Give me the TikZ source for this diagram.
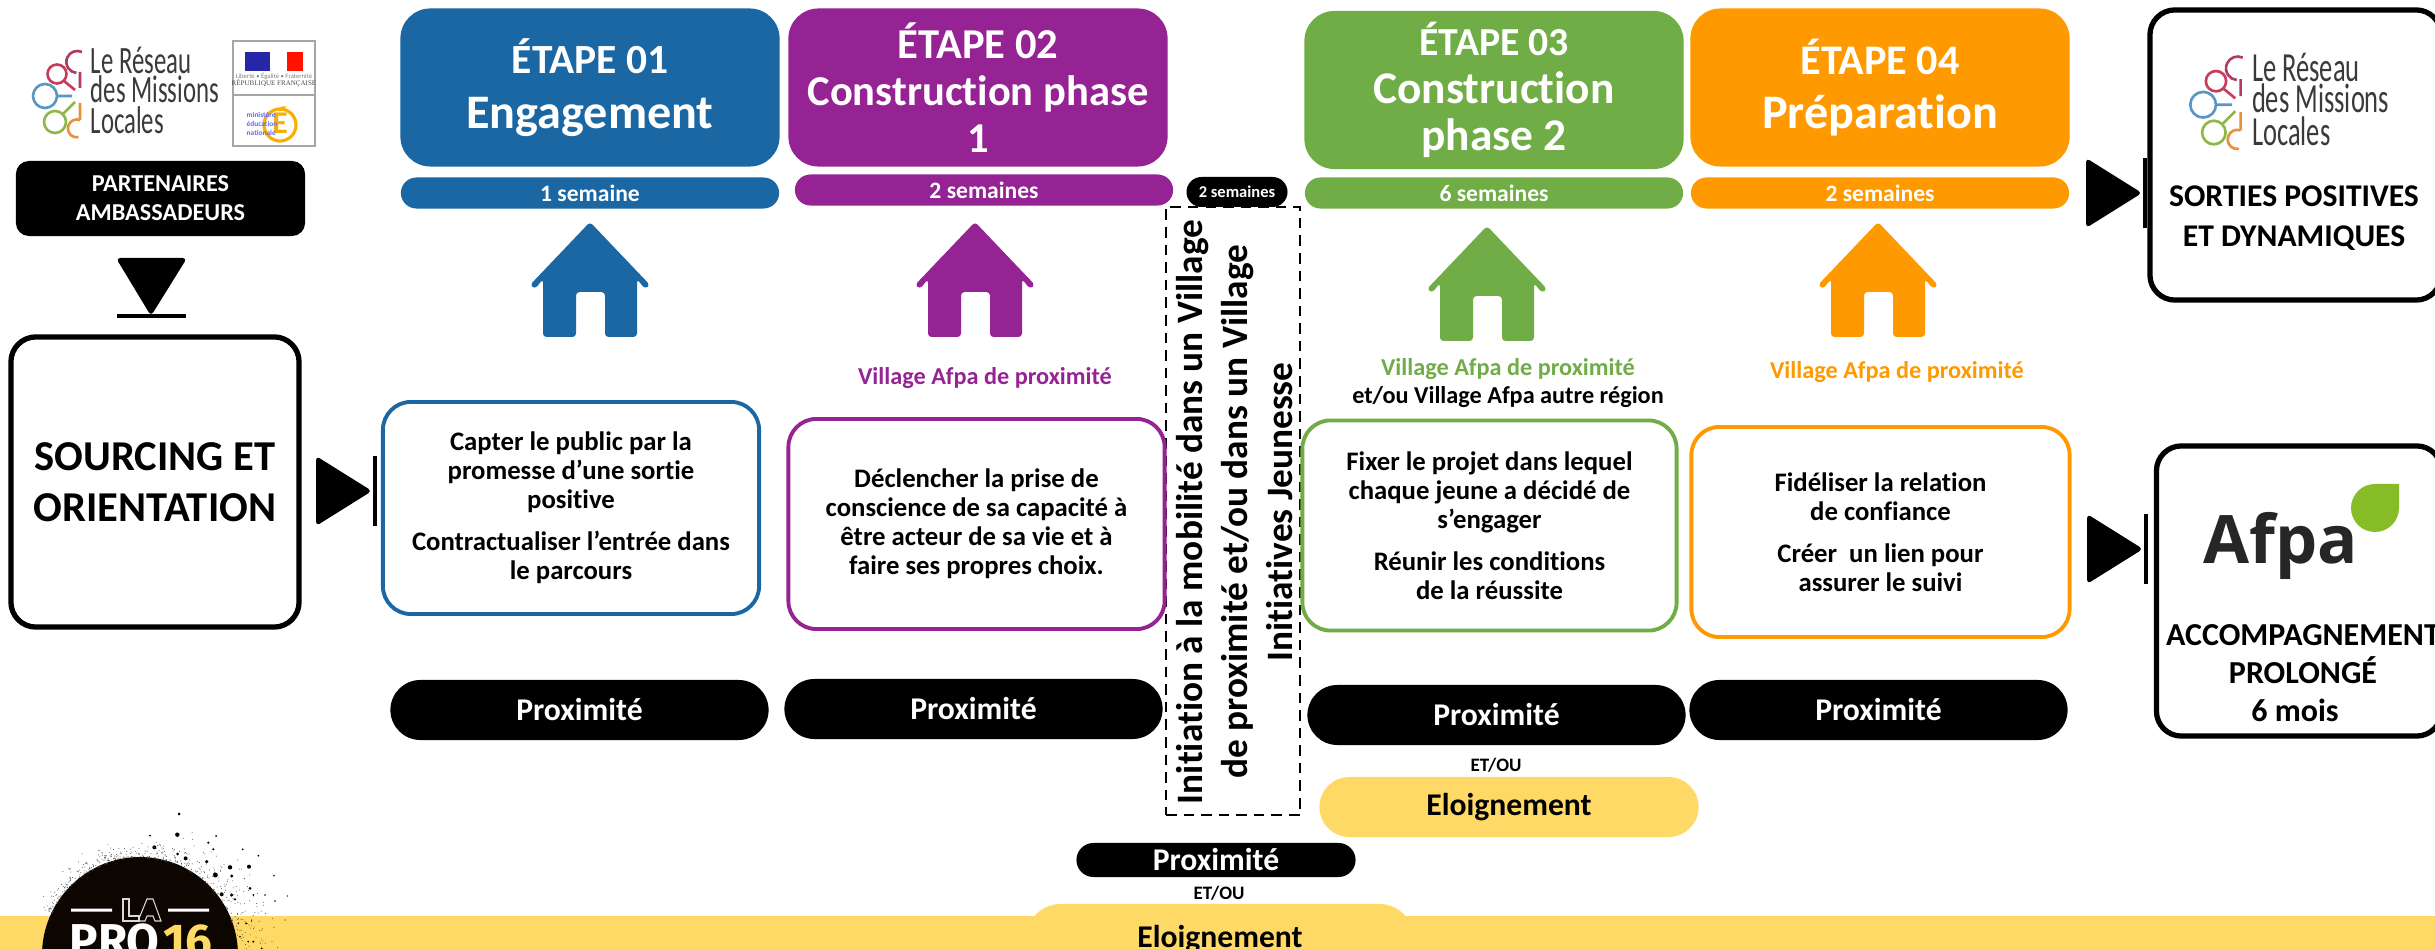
\documentclass[tikz,border=0pt]{standalone}
\usepackage{fontspec}
\usepackage{xcolor}
\usetikzlibrary{shapes.misc}
\setmainfont{Carlito}[Ligatures=NoCommon]
\newfontfamily\afpafont{Open Sans}
\newfontfamily\prologo{Fira Sans}
\newfontfamily\serifrf{Liberation Serif}
\definecolor{bleuE}{HTML}{1A67A3}
\definecolor{violetE}{HTML}{962393}
\definecolor{vertE}{HTML}{70AD47}
\definecolor{orangeE}{HTML}{FF9900}
\definecolor{jauneE}{HTML}{FFD966}
\definecolor{texteLogo}{HTML}{3A3A3A}
\definecolor{feuille}{HTML}{86BC25}
\definecolor{ocreE}{HTML}{F7B000}
\newcommand{\taille}[2]{\fontsize{#1}{#2}\selectfont\bfseries}
\tikzset{
	etapebox/.style={fill=#1,text=white,rounded corners=0.3cm,minimum width=3.79cm,minimum height=1.58cm,inner sep=0pt,align=center},
	dureepill/.style={rounded rectangle,fill=#1,text=white,minimum width=3.78cm,minimum height=0.31cm,inner sep=0pt,font=\taille{6.7}{7}},
	cadrebox/.style={draw=#1,line width=1.1pt,fill=white,rounded corners=0.28cm,minimum width=3.74cm,minimum height=2.1cm,inner sep=0pt,align=center,font=\taille{7.6}{8.25}},
	bigbox/.style={draw=black,line width=1.5pt,fill=white,rounded corners=0.25cm,inner sep=0pt},
	lieutext/.style={inner sep=0pt,font=\taille{6.9}{7.4}},
	proxipill/.style={rounded rectangle,fill=black,text=white,minimum width=3.78cm,minimum height=0.6cm,inner sep=0pt,font=\taille{9}{10}},
	eloipill/.style={rounded rectangle,fill=jauneE,text=black,inner sep=0pt,font=\taille{9}{10}},
	pics/maison/.style={code={
		\fill[#1,rounded corners=1pt] (0,0) -- (-60,63) -- (-55,67) -- (-47,57) -- (-47,115) -- (-14,115) -- (-14,70) -- (15,70) -- (15,115) -- (47,115) -- (47,57) -- (55,67) -- (60,63) -- cycle;
	}},
	pics/arret/.style={code={
		\fill[black,rounded corners=1.2pt] (0,0) -- (-56,-35) -- (-56,35) -- cycle;
		\fill[black] (1,-35) rectangle (5,35);
	}},
	pics/logoml/.style={code={
		\draw[line width=0.75pt,color={rgb,255:red,178;green,58;blue,101}] (82,52) arc (-65:-265:11) (80,72) -- (80,88);
		\draw[line width=0.75pt,color={rgb,255:red,200;green,60;blue,90}] (57,74) circle (9.5) (64,81) -- (75,90);
		\draw[line width=0.75pt,color={rgb,255:red,90;green,150;blue,195}] (45,96) circle (12) (57,96) -- (72,96);
		\draw[line width=0.75pt,color={rgb,255:red,140;green,185;blue,70}] (55,122) circle (11) (63,114) -- (75,102);
		\draw[line width=0.75pt,color={rgb,255:red,230;green,145;blue,60}] (80,120) arc (-70:-280:9) (80,103) -- (80,120);
		\foreach \ligne/\yl in {Le Réseau/74,des Missions/103,Locales/134}{
			\node[anchor=base west,inner sep=0pt,text=texteLogo] at (90,\yl) {\scalebox{.64}[1]{\fontsize{11}{12}\selectfont \ligne}};
		}
	}}
}
\begin{document}
\begin{tikzpicture}[x=0.01cm,y=-0.01cm]
	\clip (0,0) rectangle (2435,949);
	\fill[white] (0,0) rectangle (2435,949);

	% bandeau du bas
	\fill[jauneE] (0,916) rectangle (2435,949);
	\node[eloipill,minimum width=3.88cm,minimum height=0.7cm] (eloibas) at (1220,939) {Eloignement};
	\node[proxipill,minimum width=2.79cm,minimum height=0.34cm] (proxibas) at (1216,860) {Proximité};
	\node[inner sep=0pt,font=\taille{5.4}{6}] (etoubas) at (1219,893) {ET/OU};

	% etapes
	\node[etapebox=bleuE,minimum height=1.58cm,font=\taille{13.7}{15.5}] (etapea) at (590,87.5) {\fontsize{11.8}{15.5}\selectfont ÉTAPE 01\\Engagement};
	\node[etapebox=violetE,font=\taille{12.1}{13.3}] (etapeb) at (978,87.5) {ÉTAPE 02\\Construction phase\\1};
	\node[etapebox=vertE,font=\taille{12.9}{13.6}] (etapec) at (1494,90) {\fontsize{11.3}{13.6}\selectfont ÉTAPE 03\\Construction\\phase 2};
	\node[etapebox=orangeE,font=\taille{13.7}{15.5}] (etaped) at (1880,87.5) {\fontsize{12}{15.5}\selectfont ÉTAPE 04\\Préparation};

	\node[dureepill=bleuE] (dureea) at (590,193) {1 semaine};
	\node[dureepill=violetE] (dureeb) at (984,190) {2 semaines};
	\node[dureepill=vertE] (dureec) at (1494,193) {6 semaines};
	\node[dureepill=orangeE] (dureed) at (1880,193) {2 semaines};

	\pic at (590,222) {maison=bleuE};
	\pic at (975,222) {maison=violetE};
	\pic at (1487,226) {maison=vertE};
	\pic at (1878,222) {maison=orangeE};

	\node[lieutext,text=violetE] (lieub) at (985,378) {Village Afpa de proximité};
	\node[lieutext,text=vertE] (lieuc) at (1508,369) {Village Afpa de proximité};
	\node[lieutext] (lieuc2) at (1508,397) {et/ou Village Afpa autre région};
	\node[lieutext,text=orangeE] (lieud) at (1897,372) {Village Afpa de proximité};

	% semaines de mobilite
	\node[rounded rectangle,fill=black,text=white,minimum width=1.01cm,minimum height=0.3cm,inner sep=0pt,font=\taille{4.7}{5}] (dureemob) at (1237,192) {2 semaines};
	\node[draw=black,densely dashed,line width=0.7pt,fill=white,minimum width=1.34cm,minimum height=6.08cm,inner sep=0pt] (mobilite) at (1233,511) {};
	\node[rotate=90,inner sep=0pt,align=center,font=\taille{10.6}{12.8}] (mobtext) at (1235,512) {Initiation à la mobilité dans un Village\\de proximité et/ou dans un Village\\Initiatives Jeunesse};

	\node[cadrebox=violetE,minimum width=3.76cm] (cadreb) at (976.5,524) {Déclencher la prise de\\conscience de sa capacité à\\être acteur de sa vie et à\\faire ses propres choix.};
	\node[cadrebox=vertE] (cadrec) at (1489.5,525.5) {Fixer le projet dans lequel\\chaque jeune a décidé de\\s’engager\\[3.7pt]Réunir les conditions\\de la réussite};
	\node[cadrebox=bleuE,minimum width=3.76cm,minimum height=2.12cm] (cadrea) at (571,508) {Capter le public par la\\promesse d’une sortie\\positive\\[3.7pt]Contractualiser l’entrée dans\\le parcours};
	\node[cadrebox=orangeE,minimum width=3.78cm] (cadred) at (1880.5,532) {Fidéliser la relation\\de confiance\\[3.7pt]Créer~ un lien pour\\assurer le suivi};

	\node[proxipill] (proxia) at (579.5,710) {Proximité};
	\node[proxipill] (proxib) at (973.5,709) {Proximité};
	\node[proxipill] (proxic) at (1496.5,715) {Proximité};
	\node[proxipill] (proxid) at (1878.5,710) {Proximité};
	\node[inner sep=0pt,font=\taille{5.4}{6}] (etouc) at (1496,765) {ET/OU};
	\node[eloipill,minimum width=3.79cm,minimum height=0.6cm] (eloic) at (1509,807) {Eloignement};

	% colonne de gauche
	\pic at (0,0) {logoml};
	\draw[gray!70,line width=0.5pt] (233,41) rectangle (315,146) (233,95) -- (315,95);
	\fill[blue!60!black!85] (245,52) rectangle (270,71);
	\fill[red!85!orange] (287,52) rectangle (303,71);
	\node[inner sep=0pt,text=gray,font=\fontsize{1.9}{2.5}\selectfont] (devise) at (274,76) {Liberté • Égalité • Fraternité};
	\node[inner sep=0pt,text=gray!60!black,font=\fontsize{2}{2.5}\selectfont\serifrf] (republique) at (274,83) {RÉPUBLIQUE FRANÇAISE};
	\draw[ocreE,line width=0.9pt] (280,125) circle (16);
	\node[inner sep=0pt,text=ocreE,font=\taille{9}{10}] (elogo) at (280,120) {É};
	\node[inner sep=0pt,text=blue!60,align=left,anchor=west,font=\fontsize{2.1}{2.5}\selectfont\bfseries] (minedu) at (246,124) {ministère\\éducation\\nationale};

	\node[fill=black,text=white,rounded corners=0.13cm,minimum width=2.89cm,minimum height=0.75cm,inner sep=0pt,align=center,font=\taille{6.9}{8.25}] (partenaires) at (160.5,198.5) {PARTENAIRES\\AMBASSADEURS};
	\fill[black,rounded corners=1.2pt] (116,258) -- (187,258) -- (151,316) -- cycle;
	\fill[black] (117,314) rectangle (186,318);

	\node[bigbox,minimum width=2.88cm,minimum height=2.9cm,align=center,font=\taille{12.1}{14.5}] (sourcing) at (155,482) {SOURCING ET\\ORIENTATION};
	\pic at (372,491) {arret};

	% colonne de droite
	\pic at (2142,193) {arret};
	\node[bigbox,minimum width=2.91cm,minimum height=2.9cm] (sorties) at (2295.5,155) {};
	\pic[scale=1.07,transform shape] at (2155,2) {logoml};
	\node[inner sep=0pt,align=center,font=\taille{9}{11.2}] (sortiestext) at (2294,218) {SORTIES POSITIVES\\ET DYNAMIQUES};

	\pic at (2143,549) {arret};
	\node[bigbox,minimum width=2.85cm,minimum height=2.9cm] (prolonge) at (2299,591) {};
	\node[anchor=base,inner sep=0pt,text=black!85,font=\fontsize{19}{22}\selectfont\afpafont\bfseries] (afpa) at (2281,564) {Afpa};
	\fill[feuille] (2399,484) -- (2399,508) arc (0:270:24) -- cycle;
	\node[inner sep=0pt,align=center,font=\taille{9.1}{10.7}] (prolongetext) at (2303,673) {ACCOMPAGNEMENT\\PROLONGÉ\\\hspace*{-0.16cm}6 mois};

	% logo la pro 16
	\fill[black!95!orange] (140,955) circle (98);
	\fill[white] (71,908.5) rectangle (112,911.5) (168,908.5) rectangle (209,911.5);
	\draw[white!85!black,line width=0.3pt] (123,899) -- (129,899) -- (129,916) -- (139,916) -- (139,921) -- (123,921) -- cycle;
	\draw[white!85!black,line width=0.3pt] (138,921) -- (147,899) -- (153,899) -- (161,921) -- (155,921) -- (153,916) -- (147,916) -- (145,921) -- cycle;
	\node[anchor=base west,inner sep=0pt,text=white,font=\fontsize{13.5}{14}\selectfont\prologo\bfseries] (prolabel) at (69,958) {PRO};
	\node[anchor=base west,inner sep=0pt,text=jauneE,font=\fontsize{13.5}{14}\selectfont\prologo\bfseries] (seizelabel) at (163,958) {16};
	\foreach \dx/\dy/\rayon in {537/162/1.5,532/224/2.2,463/262/2,690/322/2.2,747/320/2,646/345/2.5,557/295/2,620/305/1.8,533/282/1.5,450/227/1,625/248/1.2,648/228/1,640/268/1.2,728/268/1,775/287/1,822/347/.9,695/348/1.6,750/385/1.5,695/405/1.8,665/403/2,705/418/1.3,760/405/1,795/405/.9,825/423/.9,862/408/.7,738/490/1,755/483/.8,745/545/.9,760/545/1.1,785/565/1,715/490/.9,855/480/.7,720/530/.9}{
		\fill[black] ({\dx/3},{760+\dy/3}) circle (\rayon);
	}
	\pgfmathsetseed{16}
	\foreach \i in {1,...,500}{
		\pgfmathsetmacro{\ang}{-3+158*rnd}
		\pgfmathsetmacro{\ray}{97+(18+40*max(0,cos(\ang)))*rnd*rnd*1.1}
		\fill[black!70] ({140+\ray*cos(\ang)},{955-\ray*sin(\ang)}) circle (0.5);
	}
\end{tikzpicture}
\end{document}
